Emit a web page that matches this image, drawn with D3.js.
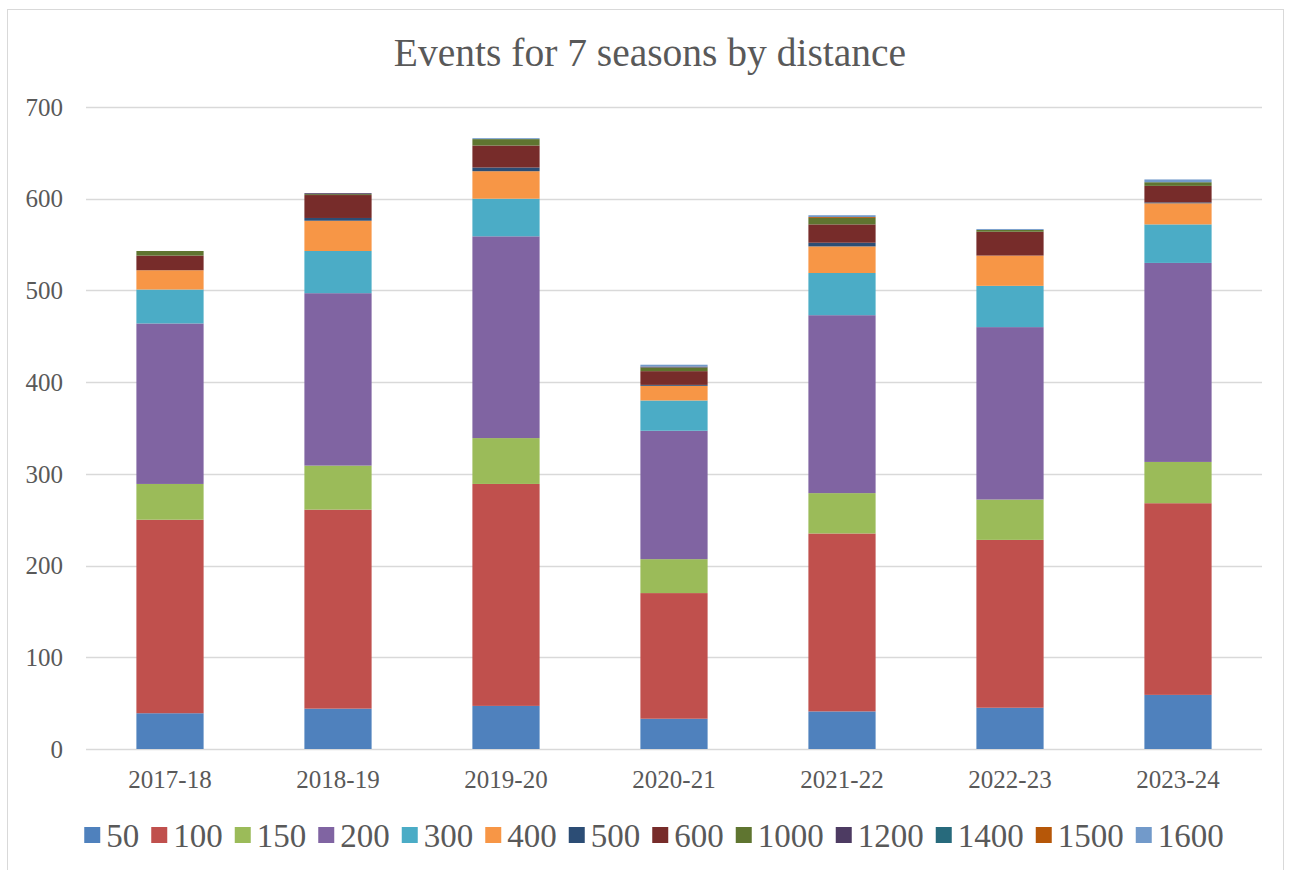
<!DOCTYPE html>
<html>
<head>
<meta charset="utf-8">
<script src="https://cdnjs.cloudflare.com/ajax/libs/d3/7.8.5/d3.min.js"></script>
<style>
  body { margin: 0; background: #fff; }
  text { font-family: "Liberation Serif", "DejaVu Serif", serif; fill: #595959; }
</style>
</head>
<body>
<div id="chart"></div>
<script>
var seasons = ["2017-18", "2018-19", "2019-20", "2020-21", "2021-22", "2022-23", "2023-24"];
var distances = ["50", "100", "150", "200", "300", "400", "500", "600", "1000", "1200", "1400", "1500", "1600"];

// events per season for each distance
var d50   = [39, 44, 47, 33, 41, 45, 59];
var d100  = [211, 217, 242, 137, 194, 183, 209];
var d150  = [39, 48, 50, 37, 44, 44, 45];
var d200  = [175, 188, 220, 140, 194, 188, 217];
var d300  = [37, 46, 41, 33, 46, 45, 42];
var d400  = [21, 33, 30, 16, 29, 33, 23];
var d500  = [0, 3, 4, 1, 4, 0, 1];
var d600  = [16, 25, 24, 15, 20, 26, 18];
var d1000 = [5, 1, 7, 4, 7, 2, 4];
var d1200 = [0, 1, 0, 1, 0, 0, 0];
var d1400 = [0, 0, 0, 0, 0, 0, 0];
var d1500 = [0, 0, 0, 0, 1, 0, 0];
var d1600 = [0, 0, 1, 2, 2, 1, 3];

var yTicks = [0, 100, 200, 300, 400, 500, 600, 700];

var colors = ["#4f81bd", "#c0504d", "#9bbb59", "#8064a2", "#4bacc6", "#f79646",
              "#2c4d75", "#772c2a", "#5f7530", "#4d3b62", "#276a7c", "#b65708", "#729aca"];

var seriesValues = [d50, d100, d150, d200, d300, d400, d500, d600, d1000, d1200, d1400, d1500, d1600];

// table for d3.stack
var table = seasons.map(function(s, i) {
  var row = { season: s };
  distances.forEach(function(d, k) { row[d] = seriesValues[k][i]; });
  return row;
});

var width = 1293, height = 870;

var svg = d3.select("#chart").append("svg")
  .attr("width", width)
  .attr("height", height);

// chart frame
svg.append("rect")
  .attr("x", 7.5).attr("y", 9.5)
  .attr("width", 1276).attr("height", 880)
  .attr("fill", "#fff")
  .attr("stroke", "#d9d9d9");

var xScale = d3.scaleBand()
  .domain(seasons)
  .range([86, 1262])
  .paddingInner(0.6)
  .paddingOuter(0.3);

var yScale = d3.scaleLinear()
  .domain([0, 700])
  .range([749, 107]);

var colorScale = d3.scaleOrdinal().domain(distances).range(colors);

// gridlines
svg.append("g")
  .selectAll("line")
  .data(yTicks)
  .enter().append("line")
  .attr("x1", 86).attr("x2", 1262)
  .attr("y1", function(d) { return Math.round(yScale(d)) + 0.5; })
  .attr("y2", function(d) { return Math.round(yScale(d)) + 0.5; })
  .attr("stroke", "#d9d9d9")
  .attr("stroke-width", 1.5);

// y labels
svg.append("g")
  .selectAll("text")
  .data(yTicks)
  .enter().append("text")
  .attr("x", 63)
  .attr("y", function(d) { return yScale(d); })
  .attr("dy", "0.35em")
  .attr("text-anchor", "end")
  .style("font-size", "25px")
  .text(function(d) { return d; });

// stacked bars
var stack = d3.stack().keys(distances);
var layers = stack(table);

svg.append("g")
  .selectAll("g")
  .data(layers)
  .enter().append("g")
  .attr("fill", function(d) { return colorScale(d.key); })
  .selectAll("rect")
  .data(function(d) { return d; })
  .enter().append("rect")
  .attr("x", function(d) { return xScale(d.data.season); })
  .attr("width", xScale.bandwidth())
  .attr("y", function(d) { return yScale(d[1]); })
  .attr("height", function(d) { return yScale(d[0]) - yScale(d[1]); });

// x labels
svg.append("g")
  .selectAll("text")
  .data(seasons)
  .enter().append("text")
  .attr("x", function(d) { return xScale(d) + xScale.bandwidth() / 2; })
  .attr("y", 788)
  .attr("text-anchor", "middle")
  .style("font-size", "25px")
  .text(function(d) { return d; });

// title
svg.append("text")
  .attr("x", 650)
  .attr("y", 66)
  .attr("text-anchor", "middle")
  .style("font-size", "39.5px")
  .text("Events for 7 seasons by distance");

// legend
var legend = svg.append("g");
var lx = 0;
distances.forEach(function(d, i) {
  var item = legend.append("g").attr("transform", "translate(" + lx + ",0)");
  item.append("rect")
    .attr("x", 0).attr("y", -8)
    .attr("width", 16).attr("height", 16)
    .attr("fill", colorScale(d));
  var t = item.append("text")
    .attr("x", 22)
    .attr("y", 0)
    .attr("dy", "0.35em")
    .style("font-size", "33px")
    .text(d);
  lx += 22 + t.node().getComputedTextLength() + 12;
});
var legendWidth = lx - 12;
legend.attr("transform", "translate(" + (654 - legendWidth / 2) + ",835)");
</script>
</body>
</html>
